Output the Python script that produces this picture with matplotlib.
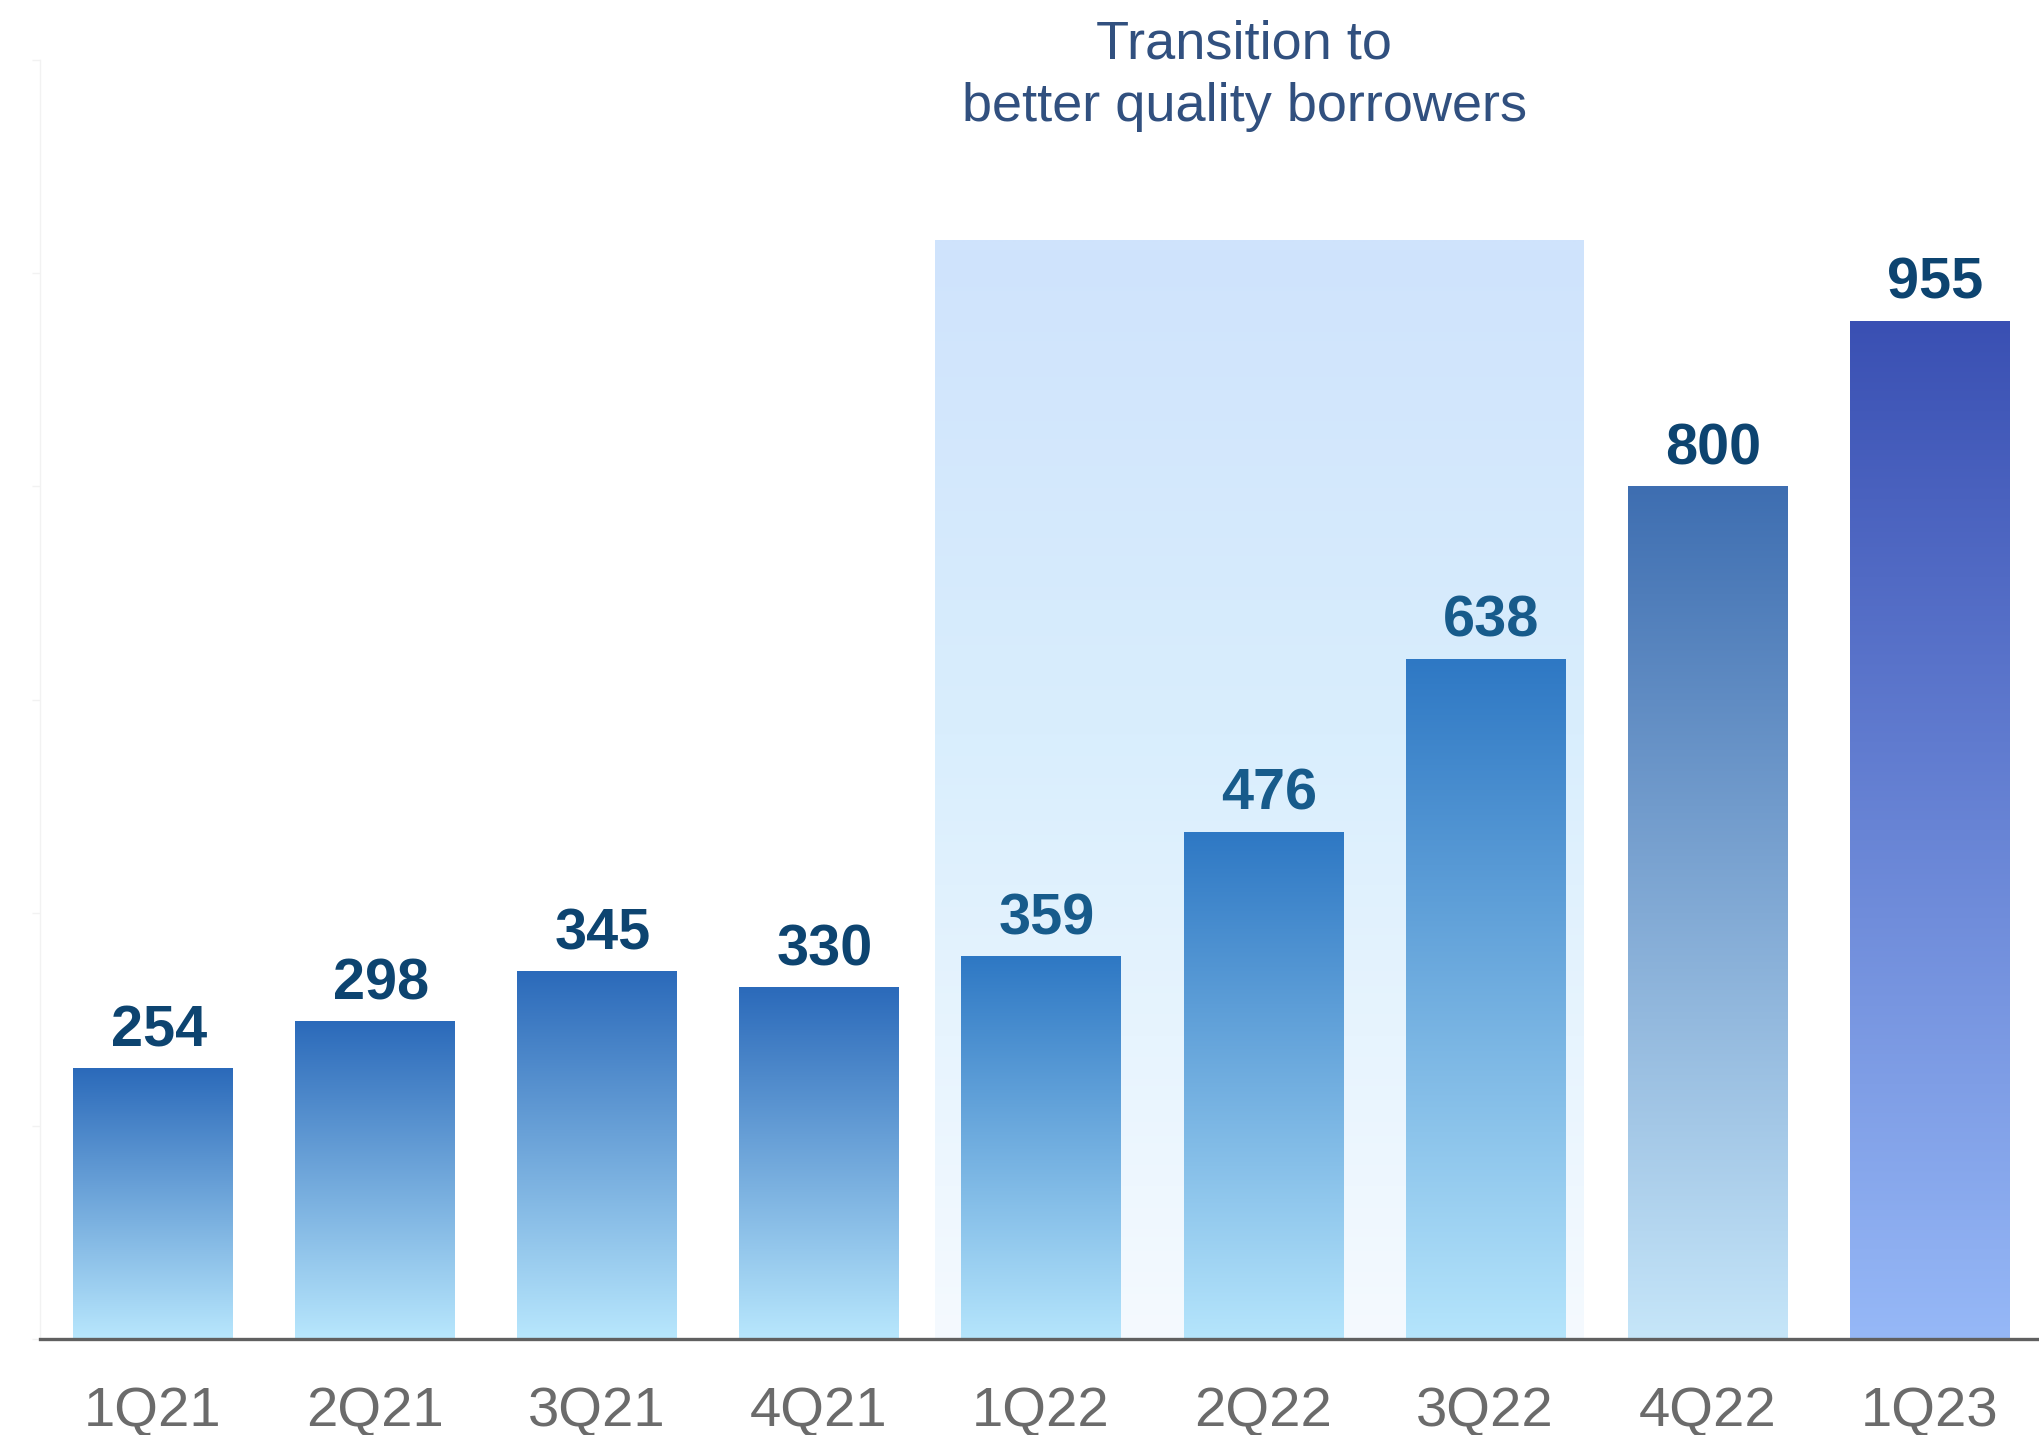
import numpy as np
import matplotlib
matplotlib.use("Agg")
import matplotlib.pyplot as plt
from matplotlib.colors import to_rgb

# ---- data ----
quarters = ["1Q21", "2Q21", "3Q21", "4Q21", "1Q22", "2Q22", "3Q22", "4Q22", "1Q23"]
values = [254, 298, 345, 330, 359, 476, 638, 800, 955]
highlight_first = "1Q22"
highlight_last = "3Q22"
highlight_text = ["Transition to", "better quality borrowers"]

# ---- styles ----
top_colors = ["#2b6aba"] * 4 + ["#2e78c4"] * 3 + ["#3e6eb1", "#3a50b3"]
bottom_colors = ["#b8e7fd"] * 4 + ["#b5e5fc"] * 3 + ["#c6e6f9", "#96b8f7"]
label_colors = ["#0d4470"] * 4 + ["#175b8b"] * 3 + ["#0d4470"] * 2

plt.rcParams["font.family"] = ["Liberation Sans", "DejaVu Sans"]

W, H = 2039, 1435
fig = plt.figure(figsize=(W / 100, H / 100), dpi=100)
ax = fig.add_axes([40 / W, 96 / H, 1 - 40 / W, (1339 - 60) / H])

x = np.arange(len(quarters))
bars = ax.bar(x, values, width=0.716, color="none", edgecolor="none", zorder=3)


def grad_img(stops, n=256):
    # stops: list of (fraction_from_bottom, color)
    t = np.linspace(0, 1, n)
    fr = [s[0] for s in stops]
    cols = np.array([to_rgb(s[1]) for s in stops])
    img = np.zeros((n, 1, 3))
    for k in range(3):
        img[:, 0, k] = np.interp(t, fr, cols[:, k])
    return img


# highlight band
i0 = quarters.index(highlight_first)
i1 = quarters.index(highlight_last)
sx0 = i0 - 0.477
sx1 = i1 + 0.441
shade_top = 1031
shade = grad_img([(0.0, "#f5faff"), (0.55, "#d9eefd"), (1.0, "#cfe3fc")])
ax.imshow(shade, extent=(sx0, sx1, 0, shade_top), origin="lower",
          aspect="auto", zorder=1, interpolation="bilinear")

# gradient bars
for b, cb, ct in zip(bars, bottom_colors, top_colors):
    x0 = b.get_x()
    w = b.get_width()
    h = b.get_height()
    im = ax.imshow(grad_img([(0.0, cb), (1.0, ct)]), extent=(x0, x0 + w, 0, h),
                   origin="lower", aspect="auto", zorder=3, interpolation="bilinear")
    im.set_clip_path(b)

# value labels
for xi, v, c in zip(x, values, label_colors):
    ax.annotate(f"{v}", (xi, v), xytext=(4.5, 16), textcoords="offset points",
                ha="center", va="baseline", fontsize=41.5, fontweight="bold",
                color=c, zorder=5)

# highlight text
tx = (sx0 + sx1) / 2 - 0.067
ax.text(tx, 1201.5, highlight_text[0], ha="center", va="baseline",
        fontsize=39, color="#31507f", clip_on=False)
ax.text(tx, 1142.5, highlight_text[1], ha="center", va="baseline",
        fontsize=39, color="#31507f", clip_on=False)

ax.set_xlim(-0.507, 8.494)
ax.set_ylim(0, 1200)

ax.set_xticks(x)
ax.set_xticklabels(quarters, fontsize=40.5, color="#6b6b6b")
ax.tick_params(axis="x", length=0, pad=34)
ax.set_yticks(np.arange(0, 1201, 200))
ax.set_yticklabels([])
ax.tick_params(axis="y", length=6, width=1, color="#f2f2f2")

for s in ["top", "right"]:
    ax.spines[s].set_visible(False)
ax.spines["left"].set_color("#f2f2f2")
ax.spines["left"].set_linewidth(1)
ax.spines["bottom"].set_color("#606060")
ax.spines["bottom"].set_linewidth(2.4)
ax.spines["bottom"].set_zorder(6)
ax.set_facecolor("white")

fig.savefig("out.png", dpi=100, facecolor="white")
